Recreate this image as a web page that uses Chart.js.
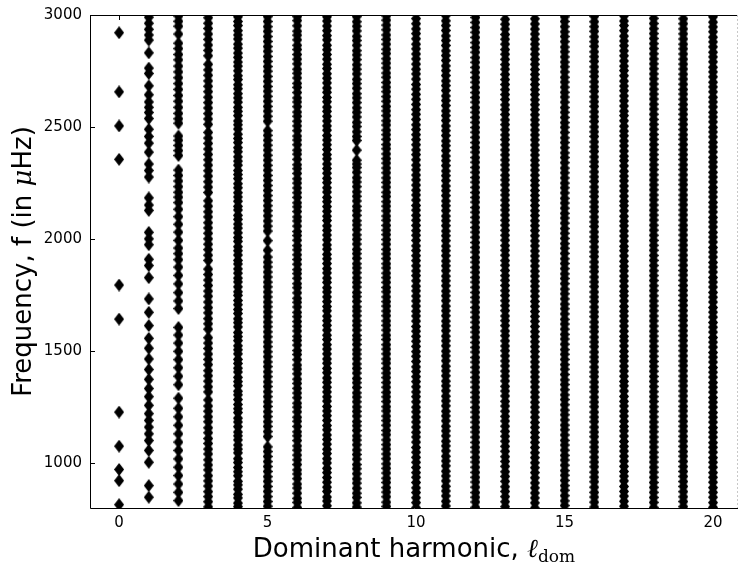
<!DOCTYPE html>
<html lang="en">
<head>
    <meta charset="UTF-8">
    <title>Frequency vs dominant harmonic</title>
    <script src="https://cdn.jsdelivr.net/npm/chart.js"></script>
    <style>
        body { margin: 0; padding: 0; background: #fff; }
        #chart { display: block; }
    </style>
</head>
<body>
    <canvas id="chart" width="739" height="565"></canvas>

    <script>
        // tick labels
        const xTickValues = [0, 5, 10, 15, 20];
        const yTickValues = [1000, 1500, 2000, 2500, 3000];

        // dominant harmonic of each column
        const harmonics = [0, 1, 2, 3, 4, 5, 6, 7, 8, 9, 10, 11, 12, 13, 14, 15, 16, 17, 18, 19, 20];

        // frequencies (muHz)
        const f0 = [815, 922, 972, 1076, 1228, 1643, 1795, 2356, 2505, 2657, 2921];
        const f1 = [848, 900, 1004, 1057, 1101, 1131, 1161, 1191, 1221, 1258, 1297, 1333, 1374, 1418, 1465, 1513, 1557, 1614, 1673, 1733, 1828, 1882, 1910, 1975, 2001, 2030, 2128, 2152, 2184, 2277, 2306, 2335, 2388, 2428, 2458, 2490, 2538, 2565, 2588, 2612, 2644, 2684, 2739, 2763, 2831, 2888, 2911, 2936, 2963, 2990];
        const f2 = [833, 870, 907, 945, 982, 1019, 1057, 1094, 1131, 1169, 1207, 1245, 1290, 1350, 1388, 1426, 1462, 1499, 1536, 1572, 1606, 1690, 1724, 1761, 1800, 1838, 1875, 1908, 1935, 1960, 1994, 2031, 2066, 2100, 2133, 2163, 2187, 2209, 2234, 2259, 2284, 2308, 2373, 2395, 2418, 2441, 2460, 2517, 2537, 2561, 2588, 2615, 2641, 2668, 2694, 2720, 2746, 2772, 2800, 2824, 2850, 2874, 2915, 2950, 2972, 2995];
        const f3 = [805, 828, 851, 873, 898, 921, 944, 970, 992, 1015, 1041, 1063, 1088, 1110, 1136, 1158, 1185, 1207, 1232, 1255, 1282, 1318, 1341, 1366, 1390, 1413, 1440, 1463, 1487, 1512, 1536, 1560, 1598, 1622, 1645, 1671, 1694, 1719, 1745, 1768, 1793, 1817, 1842, 1866, 1905, 1928, 1953, 1977, 2001, 2026, 2050, 2073, 2099, 2122, 2147, 2171, 2208, 2232, 2256, 2281, 2305, 2330, 2354, 2378, 2402, 2427, 2451, 2476, 2512, 2536, 2560, 2585, 2609, 2633, 2658, 2682, 2706, 2731, 2755, 2780, 2818, 2842, 2866, 2891, 2915, 2940, 2963, 2988];
        const f4 = [806, 822, 845, 861, 884, 903, 919, 944, 962, 981, 1003, 1020, 1046, 1063, 1081, 1104, 1122, 1139, 1163, 1184, 1201, 1226, 1243, 1262, 1284, 1305, 1321, 1346, 1364, 1383, 1407, 1424, 1445, 1463, 1488, 1506, 1524, 1547, 1565, 1583, 1608, 1627, 1644, 1668, 1686, 1707, 1726, 1749, 1765, 1787, 1809, 1826, 1848, 1867, 1889, 1905, 1929, 1948, 1966, 1990, 2007, 2028, 2049, 2067, 2088, 2106, 2130, 2146, 2169, 2188, 2207, 2229, 2247, 2270, 2288, 2306, 2330, 2348, 2367, 2390, 2408, 2431, 2449, 2468, 2491, 2510, 2527, 2551, 2570, 2588, 2611, 2630, 2649, 2671, 2689, 2712, 2729, 2751, 2772, 2790, 2811, 2830, 2852, 2870, 2893, 2911, 2930, 2953, 2971, 2992];
        const f5 = [808, 829, 851, 874, 896, 919, 940, 963, 985, 1007, 1030, 1052, 1073, 1119, 1141, 1164, 1185, 1208, 1230, 1253, 1274, 1297, 1319, 1342, 1363, 1386, 1408, 1431, 1452, 1475, 1497, 1520, 1541, 1564, 1586, 1609, 1630, 1653, 1675, 1698, 1719, 1742, 1764, 1787, 1808, 1831, 1853, 1876, 1897, 1920, 1950, 1993, 2036, 2058, 2081, 2104, 2127, 2149, 2172, 2194, 2217, 2239, 2262, 2284, 2307, 2329, 2352, 2374, 2397, 2419, 2441, 2463, 2484, 2526, 2548, 2571, 2592, 2615, 2637, 2660, 2681, 2704, 2726, 2749, 2770, 2793, 2815, 2838, 2859, 2882, 2904, 2927, 2948, 2971, 2993];
        const f6 = [802, 825, 843, 866, 889, 907, 931, 952, 970, 994, 1015, 1036, 1058, 1077, 1101, 1122, 1140, 1164, 1187, 1205, 1229, 1250, 1268, 1292, 1313, 1334, 1356, 1375, 1399, 1420, 1438, 1462, 1485, 1503, 1527, 1548, 1566, 1590, 1611, 1632, 1654, 1673, 1697, 1718, 1736, 1760, 1783, 1801, 1825, 1846, 1864, 1888, 1909, 1930, 1952, 1971, 1995, 2016, 2034, 2058, 2081, 2099, 2123, 2144, 2162, 2186, 2207, 2228, 2250, 2269, 2293, 2314, 2332, 2356, 2379, 2397, 2421, 2442, 2460, 2484, 2505, 2526, 2548, 2567, 2591, 2612, 2630, 2654, 2677, 2695, 2719, 2740, 2758, 2782, 2803, 2824, 2846, 2865, 2889, 2910, 2928, 2952, 2975, 2993];
        const f7 = [810, 831, 849, 874, 893, 915, 936, 958, 977, 1001, 1020, 1043, 1062, 1085, 1106, 1126, 1149, 1168, 1191, 1212, 1233, 1253, 1277, 1296, 1318, 1339, 1361, 1380, 1404, 1423, 1446, 1465, 1488, 1509, 1529, 1552, 1571, 1594, 1615, 1636, 1656, 1680, 1699, 1721, 1742, 1764, 1783, 1807, 1826, 1849, 1868, 1891, 1912, 1932, 1955, 1974, 1997, 2018, 2039, 2059, 2083, 2102, 2124, 2145, 2167, 2186, 2210, 2229, 2252, 2271, 2294, 2315, 2335, 2358, 2377, 2400, 2421, 2442, 2462, 2486, 2505, 2527, 2548, 2570, 2589, 2613, 2632, 2655, 2674, 2697, 2718, 2738, 2761, 2780, 2803, 2824, 2845, 2865, 2889, 2908, 2930, 2951, 2973, 2992];
        const f8 = [804, 823, 847, 866, 888, 911, 930, 953, 975, 994, 1018, 1039, 1059, 1082, 1103, 1122, 1146, 1167, 1186, 1210, 1231, 1251, 1274, 1295, 1314, 1338, 1359, 1378, 1402, 1423, 1443, 1466, 1487, 1506, 1530, 1551, 1570, 1594, 1615, 1635, 1658, 1679, 1698, 1722, 1743, 1762, 1786, 1807, 1827, 1850, 1871, 1890, 1914, 1935, 1954, 1978, 1999, 2019, 2042, 2063, 2082, 2106, 2127, 2146, 2170, 2191, 2211, 2234, 2255, 2274, 2298, 2319, 2335, 2352, 2397, 2440, 2458, 2479, 2502, 2521, 2545, 2566, 2586, 2609, 2630, 2649, 2673, 2694, 2713, 2737, 2758, 2778, 2801, 2822, 2841, 2865, 2886, 2905, 2929, 2950, 2970, 2993];
        const f9 = [807, 826, 850, 871, 891, 914, 933, 956, 977, 997, 1020, 1041, 1063, 1083, 1104, 1127, 1146, 1169, 1190, 1210, 1233, 1252, 1275, 1296, 1316, 1339, 1360, 1382, 1402, 1423, 1446, 1465, 1488, 1509, 1529, 1552, 1571, 1594, 1615, 1635, 1658, 1679, 1701, 1721, 1742, 1765, 1784, 1807, 1828, 1848, 1871, 1890, 1913, 1934, 1954, 1977, 1998, 2020, 2040, 2061, 2084, 2103, 2126, 2147, 2167, 2190, 2209, 2232, 2253, 2273, 2296, 2317, 2339, 2359, 2380, 2403, 2422, 2445, 2466, 2486, 2509, 2528, 2551, 2572, 2592, 2615, 2636, 2658, 2678, 2699, 2722, 2741, 2764, 2785, 2805, 2828, 2847, 2870, 2891, 2911, 2934, 2955, 2977, 2996];
        const f10 = [801, 824, 846, 869, 890, 914, 937, 958, 981, 1004, 1026, 1049, 1070, 1094, 1117, 1138, 1161, 1184, 1206, 1229, 1250, 1274, 1297, 1318, 1341, 1364, 1386, 1409, 1430, 1454, 1477, 1498, 1521, 1544, 1566, 1589, 1610, 1634, 1657, 1678, 1701, 1724, 1746, 1769, 1790, 1814, 1837, 1858, 1881, 1904, 1926, 1949, 1970, 1994, 2017, 2038, 2061, 2084, 2106, 2129, 2150, 2174, 2197, 2218, 2241, 2264, 2286, 2309, 2330, 2354, 2377, 2398, 2421, 2444, 2466, 2489, 2510, 2534, 2557, 2578, 2601, 2624, 2646, 2669, 2690, 2714, 2737, 2758, 2781, 2804, 2826, 2849, 2870, 2894, 2917, 2938, 2961, 2984];
        const f11 = [809, 830, 854, 876, 897, 921, 943, 964, 988, 1010, 1031, 1055, 1077, 1098, 1122, 1144, 1165, 1189, 1211, 1232, 1256, 1278, 1299, 1323, 1345, 1366, 1390, 1412, 1433, 1457, 1479, 1500, 1524, 1546, 1567, 1591, 1613, 1634, 1658, 1680, 1701, 1725, 1747, 1768, 1792, 1814, 1835, 1859, 1881, 1902, 1926, 1948, 1969, 1993, 2015, 2036, 2060, 2082, 2103, 2127, 2149, 2170, 2194, 2216, 2237, 2261, 2283, 2304, 2328, 2350, 2371, 2395, 2417, 2438, 2462, 2484, 2505, 2529, 2551, 2572, 2596, 2618, 2639, 2663, 2685, 2706, 2730, 2752, 2773, 2797, 2819, 2840, 2864, 2886, 2907, 2931, 2953, 2974, 2997];
        const f12 = [803, 827, 848, 869, 893, 916, 937, 959, 982, 1005, 1026, 1050, 1071, 1093, 1116, 1139, 1160, 1183, 1205, 1228, 1249, 1273, 1294, 1316, 1339, 1362, 1383, 1406, 1428, 1451, 1472, 1496, 1517, 1539, 1562, 1585, 1606, 1629, 1651, 1674, 1695, 1719, 1740, 1762, 1785, 1808, 1829, 1852, 1874, 1897, 1918, 1942, 1963, 1985, 2008, 2031, 2052, 2075, 2097, 2120, 2141, 2165, 2186, 2208, 2231, 2254, 2275, 2298, 2320, 2343, 2364, 2388, 2409, 2431, 2454, 2477, 2498, 2521, 2543, 2566, 2587, 2611, 2632, 2654, 2677, 2700, 2721, 2744, 2766, 2789, 2810, 2834, 2855, 2877, 2900, 2923, 2944, 2967, 2989];
        const f13 = [806, 828, 851, 874, 895, 919, 941, 962, 986, 1008, 1029, 1053, 1075, 1098, 1120, 1142, 1165, 1188, 1209, 1232, 1255, 1276, 1300, 1322, 1343, 1367, 1389, 1411, 1434, 1456, 1479, 1502, 1523, 1546, 1569, 1590, 1614, 1636, 1657, 1681, 1703, 1725, 1748, 1770, 1793, 1816, 1837, 1860, 1883, 1904, 1928, 1950, 1971, 1995, 2017, 2039, 2062, 2084, 2107, 2130, 2151, 2174, 2197, 2218, 2242, 2264, 2285, 2309, 2331, 2353, 2376, 2398, 2421, 2444, 2465, 2488, 2511, 2532, 2556, 2578, 2599, 2623, 2645, 2667, 2690, 2712, 2735, 2758, 2779, 2802, 2825, 2846, 2870, 2892, 2913, 2937, 2959, 2981];
        const f14 = [800, 823, 845, 867, 890, 912, 935, 958, 980, 1002, 1025, 1047, 1070, 1093, 1115, 1137, 1160, 1182, 1205, 1228, 1250, 1272, 1295, 1317, 1340, 1363, 1385, 1407, 1430, 1452, 1475, 1498, 1520, 1542, 1565, 1587, 1610, 1633, 1655, 1677, 1700, 1722, 1745, 1768, 1790, 1812, 1835, 1857, 1880, 1903, 1925, 1947, 1970, 1992, 2015, 2038, 2060, 2082, 2105, 2127, 2150, 2173, 2195, 2217, 2240, 2262, 2285, 2308, 2330, 2352, 2375, 2397, 2420, 2443, 2465, 2487, 2510, 2532, 2555, 2578, 2600, 2622, 2645, 2667, 2690, 2713, 2735, 2757, 2780, 2802, 2825, 2848, 2870, 2892, 2915, 2937, 2960, 2983];
        const f15 = [811, 832, 855, 879, 900, 923, 946, 967, 991, 1014, 1035, 1058, 1081, 1102, 1126, 1149, 1170, 1193, 1216, 1237, 1261, 1284, 1305, 1328, 1351, 1372, 1396, 1419, 1440, 1463, 1486, 1507, 1531, 1554, 1575, 1598, 1621, 1642, 1666, 1689, 1710, 1733, 1756, 1777, 1801, 1824, 1845, 1868, 1891, 1912, 1936, 1959, 1980, 2003, 2026, 2047, 2071, 2094, 2115, 2138, 2161, 2182, 2206, 2229, 2250, 2273, 2296, 2317, 2341, 2364, 2385, 2408, 2431, 2452, 2476, 2499, 2520, 2543, 2566, 2587, 2611, 2634, 2655, 2678, 2701, 2722, 2746, 2769, 2790, 2813, 2836, 2857, 2881, 2904, 2925, 2948, 2971, 2992];
        const f16 = [804, 826, 849, 870, 893, 917, 938, 960, 984, 1005, 1027, 1051, 1072, 1094, 1118, 1139, 1161, 1185, 1206, 1228, 1252, 1273, 1295, 1319, 1340, 1362, 1386, 1407, 1429, 1453, 1474, 1496, 1520, 1541, 1563, 1587, 1608, 1630, 1654, 1675, 1697, 1721, 1742, 1764, 1788, 1809, 1831, 1855, 1876, 1898, 1922, 1943, 1965, 1989, 2010, 2032, 2056, 2077, 2099, 2123, 2144, 2166, 2190, 2211, 2233, 2257, 2278, 2300, 2324, 2345, 2367, 2391, 2412, 2434, 2458, 2479, 2501, 2525, 2546, 2568, 2592, 2613, 2635, 2659, 2680, 2702, 2726, 2747, 2769, 2793, 2814, 2836, 2860, 2881, 2903, 2927, 2948, 2970, 2994];
        const f17 = [808, 830, 853, 874, 896, 921, 942, 963, 986, 1009, 1031, 1054, 1075, 1097, 1121, 1144, 1164, 1187, 1210, 1232, 1255, 1276, 1298, 1322, 1345, 1365, 1388, 1411, 1433, 1456, 1477, 1499, 1523, 1546, 1566, 1589, 1612, 1634, 1657, 1678, 1700, 1724, 1747, 1767, 1790, 1813, 1835, 1858, 1879, 1901, 1925, 1948, 1968, 1991, 2014, 2036, 2059, 2080, 2102, 2126, 2149, 2169, 2192, 2215, 2237, 2260, 2281, 2303, 2327, 2350, 2370, 2393, 2416, 2438, 2461, 2482, 2504, 2528, 2551, 2571, 2594, 2617, 2639, 2662, 2683, 2705, 2729, 2752, 2772, 2795, 2818, 2840, 2863, 2884, 2906, 2930, 2953, 2973, 2996];
        const f18 = [802, 825, 847, 870, 892, 914, 937, 960, 982, 1005, 1027, 1049, 1072, 1095, 1117, 1140, 1162, 1184, 1207, 1230, 1252, 1275, 1297, 1319, 1342, 1365, 1387, 1410, 1432, 1454, 1477, 1500, 1522, 1545, 1567, 1589, 1612, 1635, 1657, 1680, 1702, 1724, 1747, 1770, 1792, 1815, 1837, 1859, 1882, 1905, 1927, 1950, 1972, 1994, 2017, 2040, 2062, 2085, 2107, 2129, 2152, 2175, 2197, 2220, 2242, 2264, 2287, 2310, 2332, 2355, 2377, 2399, 2422, 2445, 2467, 2490, 2512, 2534, 2557, 2580, 2602, 2625, 2647, 2669, 2692, 2715, 2737, 2760, 2782, 2804, 2827, 2850, 2872, 2895, 2917, 2939, 2962, 2985];
        const f19 = [806, 829, 850, 873, 896, 918, 941, 963, 985, 1008, 1031, 1052, 1075, 1098, 1120, 1143, 1165, 1187, 1210, 1233, 1254, 1277, 1300, 1322, 1345, 1367, 1389, 1412, 1435, 1456, 1479, 1502, 1524, 1547, 1569, 1591, 1614, 1637, 1658, 1681, 1704, 1726, 1749, 1771, 1793, 1816, 1839, 1860, 1883, 1906, 1928, 1951, 1973, 1995, 2018, 2041, 2062, 2085, 2108, 2130, 2153, 2175, 2197, 2220, 2243, 2264, 2287, 2310, 2332, 2355, 2377, 2399, 2422, 2445, 2466, 2489, 2512, 2534, 2557, 2579, 2601, 2624, 2647, 2668, 2691, 2714, 2736, 2759, 2781, 2803, 2826, 2849, 2870, 2893, 2916, 2938, 2961, 2983];
        const f20 = [803, 824, 848, 870, 891, 915, 937, 958, 982, 1004, 1025, 1049, 1071, 1092, 1116, 1138, 1159, 1183, 1205, 1226, 1250, 1272, 1293, 1317, 1339, 1360, 1384, 1406, 1427, 1451, 1473, 1494, 1518, 1540, 1561, 1585, 1607, 1628, 1652, 1674, 1695, 1719, 1741, 1762, 1786, 1808, 1829, 1853, 1875, 1896, 1920, 1942, 1963, 1987, 2009, 2030, 2054, 2076, 2097, 2121, 2143, 2164, 2188, 2210, 2231, 2255, 2277, 2298, 2322, 2344, 2365, 2389, 2411, 2432, 2456, 2478, 2499, 2523, 2545, 2566, 2590, 2612, 2633, 2657, 2679, 2700, 2724, 2746, 2767, 2791, 2813, 2834, 2858, 2880, 2901, 2925, 2947, 2968, 2992];

        const freqByHarmonic = [f0, f1, f2, f3, f4, f5, f6, f7, f8, f9, f10, f11, f12, f13, f14, f15, f16, f17, f18, f19, f20];

        const points = [];
        harmonics.forEach((l, i) => {
            freqByHarmonic[i].forEach(f => points.push({ x: l, y: f }));
        });

        // black diamond marker, a bit taller than wide
        function makeDiamond(w, h) {
            const c = document.createElement('canvas');
            c.width = w;
            c.height = h;
            const g = c.getContext('2d');
            g.beginPath();
            g.moveTo(w / 2, 0);
            g.lineTo(w, h / 2);
            g.lineTo(w / 2, h);
            g.lineTo(0, h / 2);
            g.closePath();
            g.fillStyle = '#000';
            g.fill();
            return c;
        }
        const diamond = makeDiamond(10, 13);

        const sans = '"DejaVu Sans", sans-serif';
        const serif = '"DejaVu Serif", serif';

        // draws pieces of text side by side, centred on cx
        function drawPieces(ctx, pieces, cx, baseline) {
            let total = 0;
            pieces.forEach(p => { ctx.font = p.font; total += ctx.measureText(p.text).width; });
            let x = cx - total / 2;
            pieces.forEach(p => {
                ctx.font = p.font;
                ctx.fillText(p.text, x, baseline + (p.dy || 0));
                x += ctx.measureText(p.text).width;
            });
        }

        const framePlugin = {
            id: 'frame',
            afterDraw(chart) {
                const ctx = chart.ctx;
                const a = chart.chartArea;
                const xs = chart.scales.x;
                const ys = chart.scales.y;
                const tick = 5;
                ctx.save();
                ctx.strokeStyle = '#000';
                ctx.lineWidth = 1;
                ctx.beginPath();
                xTickValues.forEach(v => {
                    const px = Math.round(xs.getPixelForValue(v)) + 0.5;
                    ctx.moveTo(px, a.bottom); ctx.lineTo(px, a.bottom - tick);
                    ctx.moveTo(px, a.top); ctx.lineTo(px, a.top + tick);
                });
                yTickValues.forEach(v => {
                    const py = Math.round(ys.getPixelForValue(v)) + 0.5;
                    ctx.moveTo(a.left, py); ctx.lineTo(a.left + tick, py);
                });
                ctx.stroke();
                ctx.beginPath();
                ctx.moveTo(Math.round(a.left) + 0.5, Math.round(a.top) + 0.5);
                ctx.lineTo(Math.round(a.right), Math.round(a.top) + 0.5);
                ctx.moveTo(Math.round(a.left) + 0.5, Math.round(a.top));
                ctx.lineTo(Math.round(a.left) + 0.5, Math.round(a.bottom) + 0.5);
                ctx.lineTo(Math.round(a.right), Math.round(a.bottom) + 0.5);
                ctx.stroke();
                // right spine is cut off by the image edge, only a faint trace shows
                ctx.strokeStyle = '#c8c8c8';
                ctx.setLineDash([2, 2]);
                ctx.beginPath();
                ctx.moveTo(Math.round(a.right) - 0.5, a.top);
                ctx.lineTo(Math.round(a.right) - 0.5, a.bottom);
                ctx.stroke();
                ctx.setLineDash([]);

                // axis titles
                ctx.fillStyle = '#000';
                ctx.textBaseline = 'alphabetic';
                drawPieces(ctx, [
                    { text: 'Dominant harmonic, ', font: '26px ' + sans },
                    { text: 'ℓ', font: 'italic 26px ' + serif },
                    { text: 'dom', font: '17px ' + serif, dy: 5 }
                ], (a.left + a.right) / 2, 557);

                ctx.translate(31, (a.top + a.bottom) / 2);
                ctx.rotate(-Math.PI / 2);
                drawPieces(ctx, [
                    { text: 'Frequency, f (in ', font: '26px ' + sans },
                    { text: 'μ', font: 'italic 26px ' + serif },
                    { text: 'Hz)', font: '26px ' + sans }
                ], 0, 0);
                ctx.restore();
            }
        };

        new Chart(document.getElementById('chart'), {
            type: 'scatter',
            data: {
                datasets: [{
                    data: points,
                    pointStyle: diamond,
                    pointRadius: 5,
                    pointHoverRadius: 5,
                    backgroundColor: '#000',
                    borderColor: '#000',
                    clip: 0
                }]
            },
            options: {
                responsive: false,
                animation: false,
                events: [],
                layout: {
                    autoPadding: false,
                    padding: { top: 15, right: 1, left: 0, bottom: 0 }
                },
                plugins: {
                    legend: { display: false },
                    tooltip: { enabled: false }
                },
                scales: {
                    x: {
                        type: 'linear',
                        min: -0.98,
                        max: 20.84,
                        grid: { display: false, drawTicks: false },
                        border: { display: false },
                        afterFit(scale) {
                            scale.height = 57;
                            scale.paddingLeft = 0;
                            scale.paddingRight = 0;
                        },
                        afterBuildTicks(scale) { scale.ticks = xTickValues.map(v => ({ value: v })); },
                        ticks: {
                            color: '#000',
                            padding: 6,
                            maxRotation: 0,
                            font: { family: sans, size: 15 },
                            callback: v => String(v)
                        }
                    },
                    y: {
                        type: 'linear',
                        min: 800,
                        max: 3000,
                        grid: { display: false, drawTicks: false },
                        border: { display: false },
                        afterFit(scale) {
                            scale.width = 90;
                            scale.paddingTop = 0;
                            scale.paddingBottom = 0;
                        },
                        afterBuildTicks(scale) { scale.ticks = yTickValues.map(v => ({ value: v })); },
                        ticks: {
                            color: '#000',
                            padding: 8,
                            font: { family: sans, size: 15 },
                            callback: v => String(v)
                        }
                    }
                }
            },
            plugins: [framePlugin]
        });
    </script>
</body>
</html>
